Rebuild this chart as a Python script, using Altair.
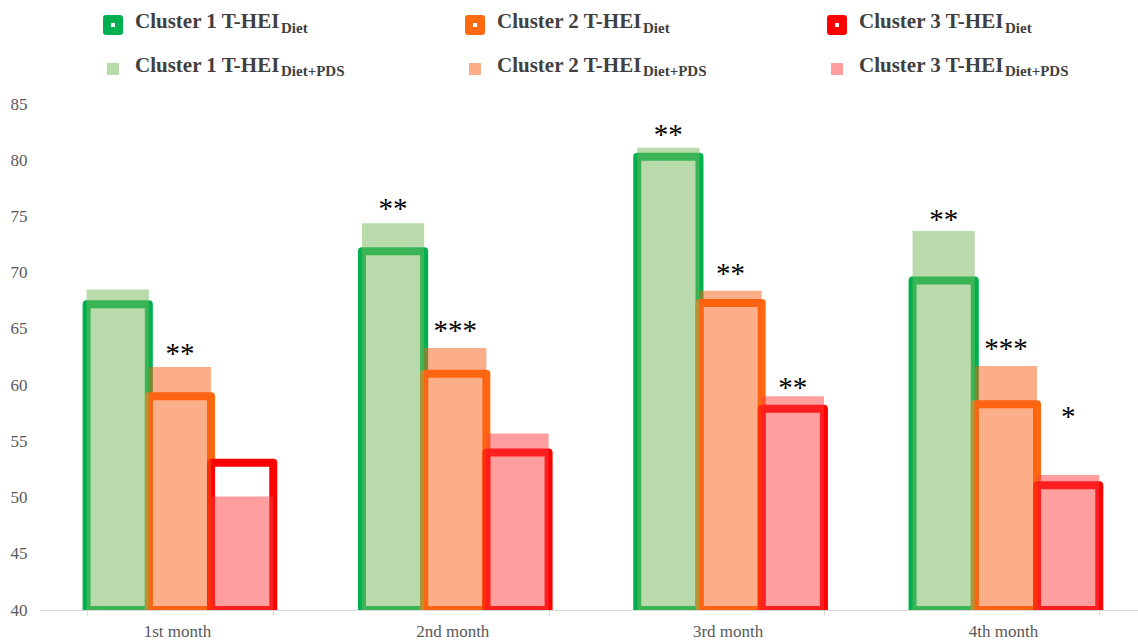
import altair as alt
import pandas as pd

months = ["1st month", "2nd month", "3rd month", "4th month"]
clusters = ["Cluster 1", "Cluster 2", "Cluster 3"]

diet_c1 = [67.2, 71.9, 80.3, 69.3]
diet_c2 = [59.0, 61.0, 67.3, 58.3]
diet_c3 = [53.1, 54.0, 57.9, 51.1]
pds_c1 = [68.5, 74.4, 81.1, 73.7]
pds_c2 = [61.6, 63.3, 68.4, 61.7]
pds_c3 = [50.1, 55.7, 59.0, 52.0]

star_month = ["1st month", "2nd month", "2nd month", "3rd month", "3rd month",
              "3rd month", "4th month", "4th month", "4th month"]
star_cluster = ["Cluster 2", "Cluster 1", "Cluster 2", "Cluster 1", "Cluster 2",
                "Cluster 3", "Cluster 1", "Cluster 2", "Cluster 3"]
star_text = ["**", "**", "***", "**", "**", "**", "**", "***", "*"]
star_y = [63.1, 76.0, 65.2, 82.6, 70.2, 60.1, 75.0, 63.6, 57.5]

y_ticks = [40, 45, 50, 55, 60, 65, 70, 75, 80, 85]

stroke_colors = ["#00B050", "#FF6A10", "#FF0000"]
pds_colors = ["#73B757", "#FA5E12", "#FF3D3F"]

legend_main = ["Cluster 1 T-HEI", "Cluster 2 T-HEI", "Cluster 3 T-HEI"]
sub_diet = "Diet"
sub_pds = "Diet+PDS"

rows = []
diets = [diet_c1, diet_c2, diet_c3]
pdss = [pds_c1, pds_c2, pds_c3]
for ci, c in enumerate(clusters):
    for mi, m in enumerate(months):
        rows.append({"month": m, "cluster": c, "diet": diets[ci][mi], "pds": pdss[ci][mi]})
df = pd.DataFrame(rows)
stars = pd.DataFrame({"month": star_month, "cluster": star_cluster,
                      "stars": star_text, "y": star_y})

FONT = "Liberation Serif"

x_enc = alt.X("month:N", sort=months,
              scale=alt.Scale(paddingInner=0.322, paddingOuter=0.155, align=0.546),
              axis=alt.Axis(title=None, labelAngle=0, labelFont=FONT, labelFontSize=17,
                            labelColor="#595959", domainColor="#D9D9D9", tickColor="#D9D9D9",
                            tickBand="extent", tickSize=5, labelPadding=8, grid=False,
                            labelOffset=-3))
xo_enc = alt.XOffset("cluster:N", sort=clusters,
                     scale=alt.Scale(paddingInner=0, paddingOuter=0))
y_scale = alt.Scale(domain=[40, 85], nice=False, zero=False)

outline = alt.Chart(df).mark_bar(fillOpacity=0, strokeWidth=8, strokeJoin="round",
                                  clip=True).encode(
    x=x_enc,
    xOffset=xo_enc,
    y=alt.Y("diet:Q", scale=y_scale,
            axis=alt.Axis(title=None, values=y_ticks, grid=False, domain=False, ticks=False,
                          labelFont=FONT, labelFontSize=17, labelColor="#595959",
                          labelPadding=13)),
    y2=alt.datum(40),
    stroke=alt.Stroke("cluster:N", scale=alt.Scale(domain=clusters, range=stroke_colors),
                      legend=None),
)

pds = alt.Chart(df).mark_bar(opacity=0.5).encode(
    x=x_enc,
    xOffset=xo_enc,
    y=alt.Y("pds:Q", scale=y_scale),
    y2=alt.datum(40),
    color=alt.Color("cluster:N", scale=alt.Scale(domain=clusters, range=pds_colors),
                    legend=None),
)

star_layer = alt.Chart(stars).mark_text(font=FONT, fontSize=29, color="#000000",
                                        baseline="alphabetic", dy=13).encode(
    x=x_enc,
    xOffset=xo_enc,
    y=alt.Y("y:Q", scale=y_scale),
    text="stars:N",
)

rounded = ("M -0.7 -1 L 0.7 -1 Q 1 -1 1 -0.7 L 1 0.7 Q 1 1 0.7 1 L -0.7 1 "
           "Q -1 1 -1 0.7 L -1 -0.7 Q -1 -1 -0.7 -1 Z")

col_sym_x = [73, 435, 797]
col_txt_x = [95, 457, 819]
legend_layers = []
for i in range(3):
    one = pd.DataFrame({"label": [legend_main[i]]})
    legend_layers.append(alt.Chart(one).mark_point(shape=rounded, filled=True, opacity=1,
                                                   size=400, color=stroke_colors[i]).encode(
        x=alt.value(col_sym_x[i]), y=alt.value(-79)))
    legend_layers.append(alt.Chart(one).mark_point(shape="square", filled=True, opacity=1,
                                                   size=16, color="white").encode(
        x=alt.value(col_sym_x[i]), y=alt.value(-79)))
    legend_layers.append(alt.Chart(one).mark_point(shape="square", filled=True, opacity=0.5,
                                                   size=144, color=pds_colors[i]).encode(
        x=alt.value(col_sym_x[i]), y=alt.value(-35)))
    for yy, sub, ys in [(-76, sub_diet, -71), (-32, sub_pds, -28)]:
        legend_layers.append(alt.Chart(one).mark_text(
            font=FONT, fontSize=21, fontWeight="bold", color="#404040",
            align="left", baseline="alphabetic").encode(
            x=alt.value(col_txt_x[i]), y=alt.value(yy), text="label:N"))
        legend_layers.append(alt.Chart(pd.DataFrame({"s": [sub]})).mark_text(
            font=FONT, fontSize=15, fontWeight="bold", color="#404040",
            align="left", baseline="alphabetic").encode(
            x=alt.value(col_txt_x[i] + 146), y=alt.value(ys), text="s:N"))

chart = alt.layer(outline, pds, star_layer, *legend_layers).properties(
    width=1098, height=506,
    autosize=alt.AutoSizeParams(type="none"),
    padding={"left": 40, "top": 104, "right": 0, "bottom": 31},
    background="white",
).configure_view(stroke=None)

chart.save("out.html", embed_options={"renderer": "svg", "actions": False})
